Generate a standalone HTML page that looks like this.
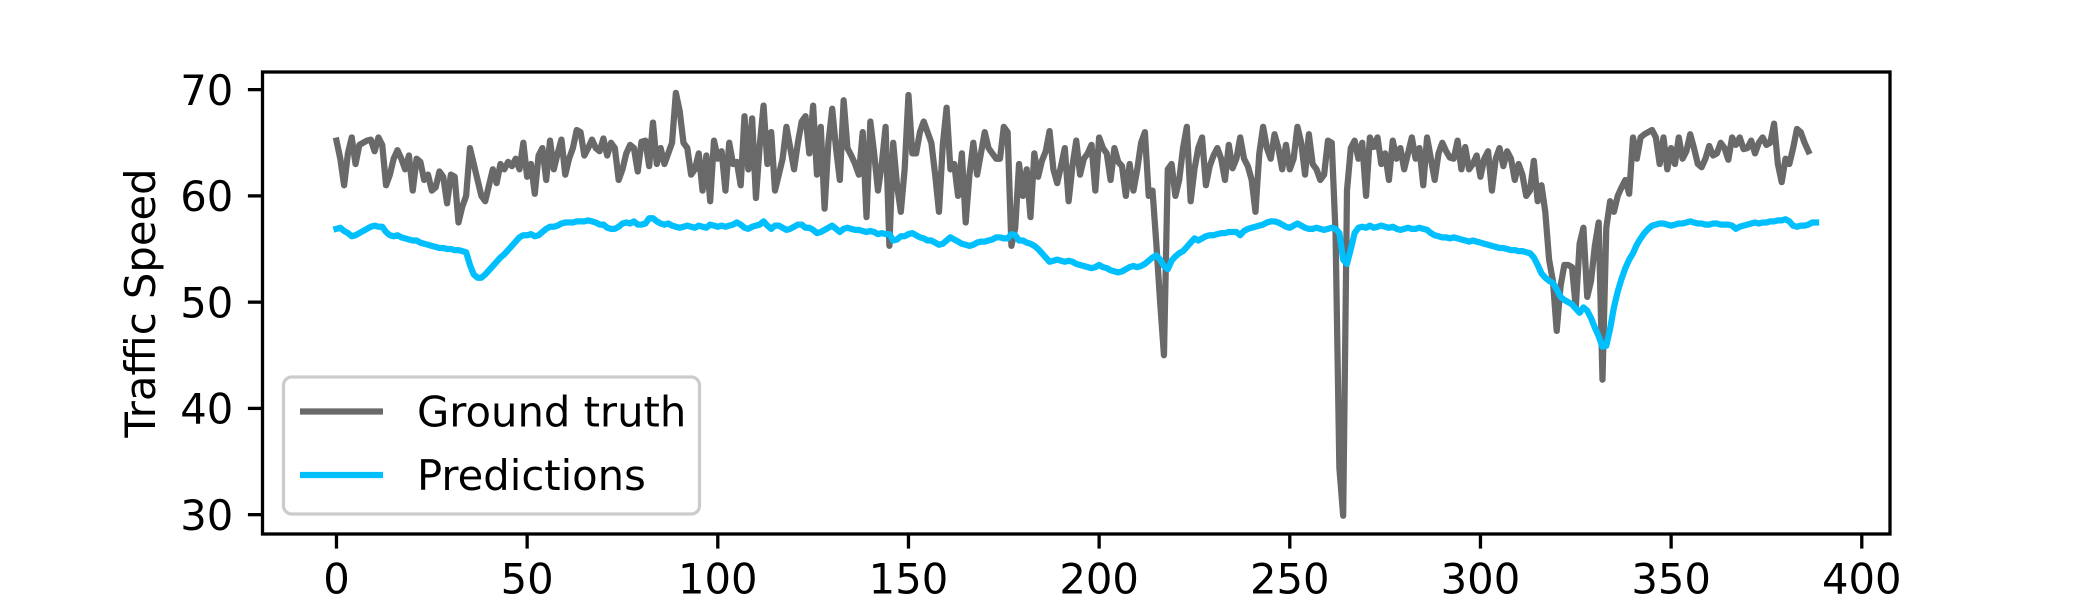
<!DOCTYPE html>
<html><head><meta charset="utf-8"><style>
html,body{margin:0;padding:0;background:#fff;}
svg{display:block;font-family:"DejaVu Sans","Liberation Sans",sans-serif;}
</style></head><body>
<svg id="chart" width="2100" height="600" viewBox="0 0 2100 600" xmlns="http://www.w3.org/2000/svg">
<rect width="2100" height="600" fill="#fff"/>
<g id="plot"></g>
</svg>
<script>
const groundTruth = [
65.2,63.5,61,64,65.5,63,64.8,65,65.2,65.3,64.2,65.5,64.8,61,62,63.5,64.3,63.5,62.5,63.8,
60.5,63.5,63.2,61.5,62.0,60.5,60.8,62.3,61.8,59.3,62.0,61.8,57.5,59,60,64.5,63,61.5,60,59.5,
61,62.5,61.2,63,62.5,63.2,62.8,63.5,62.5,65,61.8,63,60.2,63.8,64.5,61.5,65.2,62.5,64,65.3,
62,63.5,64.5,66.2,66,63.8,64.5,65.3,64.5,64.2,65.4,63.8,65,64.5,61.5,62.5,64,64.8,64.5,62.3,
65.1,65.2,62.8,66.9,63,64.5,63,64,65,69.7,68,65,64.5,62,62.5,64,60.5,63.8,59.5,65.2,
63.5,64.2,60.5,65,63,63.2,61,67.5,62.5,67.3,59.8,64.8,68.5,63,66,60.5,62,63.5,66.5,64.5,
62.5,65,67,67.5,64,68.5,62,66.5,58.8,65,68.2,64.5,61.5,69,64.5,63.8,63,62,66,58,
67,64,60.5,63,66.5,55.3,65,61,58.5,62.5,69.5,64,64,66,67,66,65,62,58.5,64.8,
68.3,62.5,63,60,64,57.5,62,65,62,64,66,64.5,64,63.5,63.5,66.5,66,55.3,57,63,
60,62.5,58,64,61.8,63.3,64.2,66.1,62.5,61.2,62.8,64.5,59.5,62.8,65.2,62,63.5,64,64.8,60.5,
65.5,64.5,64,61.5,64.5,63.2,62.8,60,63,60.5,62.5,65,66,60,60.5,55.5,50,45,62.5,63,
60,61.5,64.5,66.5,59.5,62.5,64.5,65.5,61,62.8,63.8,64.5,63.5,61.5,64.8,62.6,63.5,65.5,63.5,62.8,
61.5,58.5,64,66.5,64.5,63.5,65.8,64.5,62.5,64.8,62.5,63.5,66.5,65,62,65.8,63,62.5,61.5,62,
65.2,65,56.5,34.4,29.9,60.5,64.5,65.2,63.5,65,60,65.5,64.6,65.5,63,64,61.5,65.2,63.5,64.5,
62.5,64,65.5,63.5,64.5,61,65.5,63.5,61.5,64,65,64.2,63.6,63.5,65.2,62.5,64.6,62.5,63.0,63.8,
61.8,63.5,64.2,60.5,63.5,64.5,62.8,64.2,63.5,61.5,63,62,60,60.5,63.3,59.5,61,58.5,54,52,
47.3,51.5,53.5,53.5,53.3,49.5,55.5,57,50.5,52,55.3,57.5,42.7,57,59.5,58.5,60,60.8,61.5,60.2,
65.5,63.5,65.5,65.8,66,66.2,65.5,63,65.5,62.5,64.5,63,65.5,63.5,64.2,65.8,64.5,63,62.7,63.5,
64.7,63.8,64.0,65,64.5,63.4,65.5,64.8,65.5,64.4,64.5,65.2,64,65,65.5,64.8,65,66.8,63,61.3,
63.5,63,64.5,66.3,66,65,64.2
];
const predictions = [
56.9,57.0,56.7,56.5,56.2,56.3,56.5,56.7,56.9,57.1,57.2,57.1,57.1,56.6,56.3,56.2,56.3,56.1,56.0,55.9,
55.8,55.8,55.6,55.5,55.4,55.3,55.2,55.1,55.1,55.0,55.0,54.9,54.9,54.8,54.7,53.5,52.6,52.3,52.3,52.6,
53.0,53.4,53.8,54.2,54.5,54.9,55.3,55.7,56.1,56.3,56.3,56.4,56.2,56.3,56.6,56.9,57.1,57.1,57.2,57.4,
57.5,57.5,57.5,57.6,57.6,57.6,57.7,57.6,57.5,57.3,57.3,57.0,56.9,56.9,57.1,57.4,57.5,57.4,57.6,57.3,
57.3,57.4,57.9,57.9,57.6,57.4,57.3,57.4,57.2,57.1,57.0,57.1,57.2,57.1,57.0,57.2,57.1,57.0,57.3,57.2,
57.1,57.2,57.1,57.2,57.3,57.5,57.3,57.0,56.9,57.1,57.2,57.3,57.6,57.2,56.9,57.2,57.2,57.0,56.8,56.9,
57.1,57.3,57.3,57.0,57.0,56.8,56.5,56.6,56.8,57.0,57.2,56.9,56.6,56.9,57.0,56.9,56.8,56.8,56.7,56.6,
56.7,56.6,56.4,56.5,56.4,56.4,55.8,55.9,56.2,56.2,56.4,56.5,56.3,56.1,56.0,55.8,55.8,55.6,55.4,55.5,
55.8,56.1,55.9,55.7,55.5,55.4,55.3,55.4,55.6,55.7,55.7,55.8,55.9,56.1,56.1,56.0,56.0,56.4,56.3,55.8,
55.8,55.6,55.5,55.3,55.0,54.6,54.2,53.8,53.9,54.0,53.9,53.8,53.9,53.8,53.6,53.5,53.4,53.3,53.2,53.3,
53.5,53.3,53.2,53.0,52.9,52.8,52.9,53.1,53.3,53.4,53.3,53.4,53.6,53.9,54.2,54.4,54.0,53.4,53.1,53.9,
54.3,54.6,54.8,55.2,55.6,56.0,55.8,56.0,56.2,56.3,56.3,56.4,56.5,56.5,56.6,56.6,56.6,56.3,56.7,56.9,
57.0,57.1,57.2,57.3,57.5,57.6,57.6,57.5,57.3,57.1,57.0,57.2,57.4,57.2,57.0,56.9,56.9,57.0,56.9,56.8,
56.9,57.0,56.9,56.5,54.0,53.6,55.0,56.5,57.0,57.1,57.0,57.2,57.0,57.1,57.2,57.1,57.0,57.1,56.9,56.8,
56.9,57.0,56.9,56.9,57.0,56.9,56.8,56.5,56.3,56.2,56.1,56.1,56.0,56.1,56.0,55.9,55.8,55.7,55.8,55.7,
55.6,55.5,55.4,55.3,55.2,55.1,55.1,55.0,54.9,54.9,54.8,54.8,54.7,54.6,54.2,53.5,52.7,52.3,52.0,51.8,
51.2,50.5,50.2,50.0,49.8,49.4,49.0,49.5,49.2,48.5,47.6,46.8,45.8,45.9,47.5,49.5,51.0,52.2,53.2,54.0,
54.6,55.4,56.0,56.5,56.9,57.2,57.3,57.4,57.4,57.3,57.2,57.3,57.4,57.4,57.5,57.6,57.5,57.4,57.4,57.3,
57.3,57.4,57.4,57.3,57.3,57.3,57.2,56.9,57.1,57.2,57.3,57.4,57.5,57.4,57.5,57.5,57.6,57.6,57.7,57.7,
57.8,57.6,57.2,57.1,57.2,57.2,57.3,57.5,57.5
];
const xTicks = [0, 50, 100, 150, 200, 250, 300, 350, 400];
const yTicks = [30, 40, 50, 60, 70];
const seriesNames = ["Ground truth", "Predictions"];

const L = 262.5, R = 1890, T = 72, B = 534;
const xMin = -19.4, xMax = 407.4, yMin = 28.18, yMax = 71.66;
const FS = 41.7;
function xs(v){ return L + (v - xMin) / (xMax - xMin) * (R - L); }
function ys(v){ return B - (v - yMin) / (yMax - yMin) * (B - T); }

const NS = "http://www.w3.org/2000/svg";
const g = document.getElementById('plot');
function mk(tag, attrs, parent){
  const e = document.createElementNS(NS, tag);
  for (const k in attrs) e.setAttribute(k, attrs[k]);
  (parent || g).appendChild(e);
  return e;
}

// series lines
function drawLine(data, color, name){
  const d = data.map((v,i)=>(i?'L':'M') + xs(i).toFixed(2) + ',' + ys(v).toFixed(2)).join('');
  const p = mk('path', {d: d, fill:'none', stroke: color, 'stroke-width': 6.25, 'stroke-linejoin':'round', 'stroke-linecap':'square'});
  
  
}
drawLine(groundTruth, '#696969', 'ground-truth-line');
drawLine(predictions, '#00bfff', 'predictions-line');

// axes frame
const frame = mk('rect', {x:L, y:T, width:R-L, height:B-T, fill:'none', stroke:'#000', 'stroke-width':3.3});



// x ticks
xTicks.forEach(t=>{
  const x = xs(t);
  const tk = mk('line', {x1:x, x2:x, y1:B, y2:B+14.6, stroke:'#000', 'stroke-width':3.3});
  
  
  const lb = mk('text', {x:x, y:B+29.2+30.4, 'text-anchor':'middle', 'font-size':FS, fill:'#000'});
  lb.textContent = t;
  
  
});
// y ticks
yTicks.forEach(t=>{
  const y = ys(t);
  const tk = mk('line', {x1:L-14.6, x2:L, y1:y, y2:y, stroke:'#000', 'stroke-width':3.3});
  
  
  const lb = mk('text', {x:L-29.2, y:y+15.2, 'text-anchor':'end', 'font-size':FS, fill:'#000'});
  lb.textContent = t;
  
  
});
// y axis title
const yt = mk('text', {x:0, y:0, 'text-anchor':'middle', 'font-size':FS, fill:'#000', transform:'translate(155,'+((T+B)/2)+') rotate(-90)'});
yt.textContent = 'Traffic Speed';



// legend
const lg = mk('g', {});


const box = mk('rect', {x:283.5, y:377, width:416, height:137, rx:8.3, fill:'#fff', 'fill-opacity':0.8, stroke:'#cccccc', 'stroke-width':3.3}, lg);


const colors = ['#696969', '#00bfff'];
seriesNames.forEach((n,i)=>{
  const cy = 411.5 + i*63.5;
  const ln = mk('line', {x1:300, x2:383, y1:cy, y2:cy, stroke:colors[i], 'stroke-width':6.25}, lg);
  
  
  const tx = mk('text', {x:417, y:cy+15.2, 'font-size':FS, fill:'#000'}, lg);
  tx.textContent = n;
  
  
});
</script>
</body></html>
